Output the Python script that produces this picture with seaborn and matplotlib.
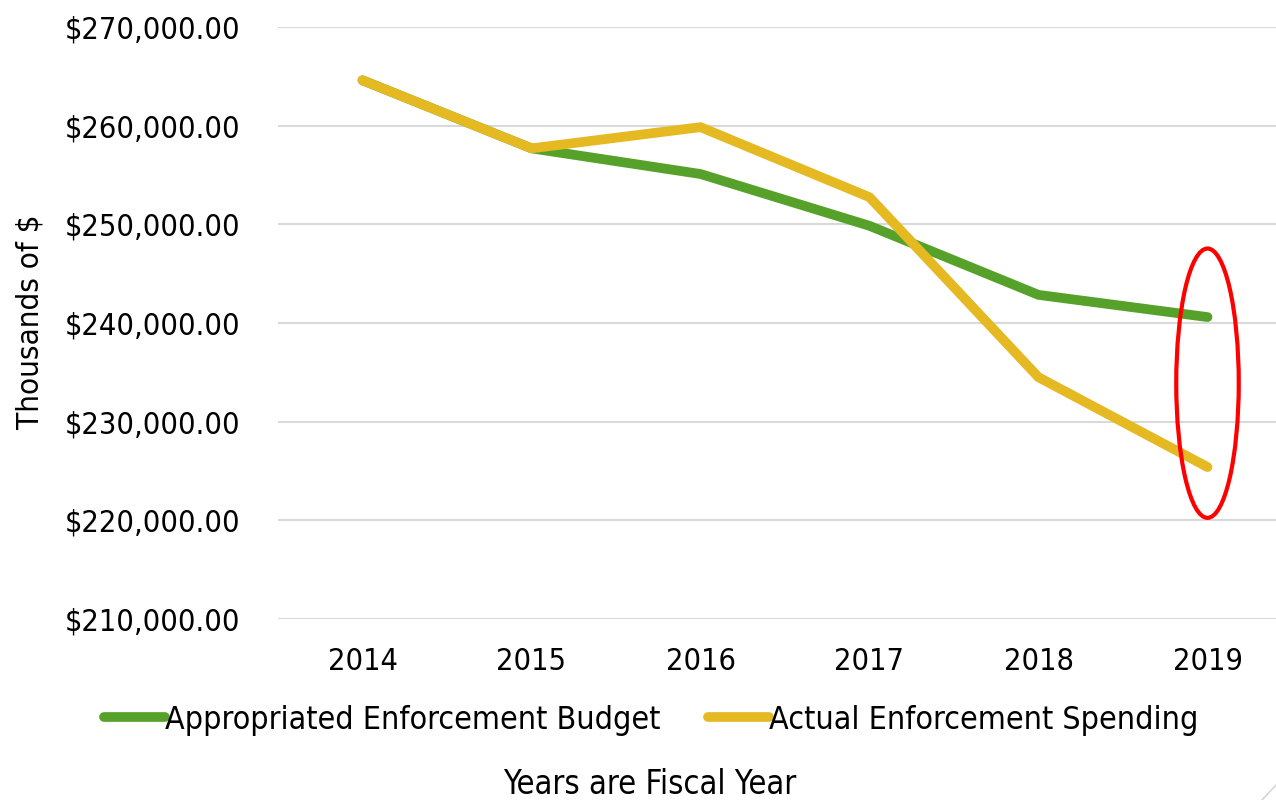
import matplotlib
matplotlib.use("Agg")
import matplotlib.pyplot as plt
import seaborn as sns
import pandas as pd
from matplotlib.patches import Ellipse
from matplotlib.ticker import FuncFormatter
from matplotlib.lines import Line2D

years = ["2014", "2015", "2016", "2017", "2018", "2019"]
budget = [264600, 257700, 255100, 249850, 242850, 240600]
spending = [264600, 257700, 259850, 252750, 234500, 225400]
series_names = ["Appropriated Enforcement Budget", "Actual Enforcement Spending"]
colors = ["#56A12A", "#E5B921"]

df = pd.DataFrame({
    "Year": years * 2,
    "Value": budget + spending,
    "Series": [series_names[0]] * len(years) + [series_names[1]] * len(years),
})

sns.set_theme(style="white")
plt.rcParams['font.family'] = ['DejaVu Sans']
plt.rcParams['font.stretch'] = 'condensed'
plt.rcParams['text.color'] = 'black'
plt.rcParams['axes.labelcolor'] = 'black'

fig = plt.figure(figsize=(12.76, 8.0), dpi=100)
ax = fig.add_axes([278 / 1276, 1 - 619 / 800, (1292 - 278) / 1276, (619 - 27) / 800])

sns.lineplot(data=df, x="Year", y="Value", hue="Series", palette=colors,
             linewidth=7, ax=ax, legend=False, sort=False)
for ln in ax.lines:
    ln.set_solid_capstyle("round")
    ln.set_solid_joinstyle("round")
ax.lines[1].set_zorder(3)

ax.set_xlim(-0.5, 5.5)
ax.set_ylim(210000, 270000)
ax.set_yticks(range(210000, 270001, 10000))
ax.yaxis.set_major_formatter(FuncFormatter(lambda v, p: f"${v:,.2f}"))
ax.grid(axis="y", color="#D9D9D9", linewidth=1.5)
ax.set_axisbelow(True)
for s in ax.spines.values():
    s.set_visible(False)
ax.tick_params(axis="y", labelsize=22, pad=27, length=0, colors="black")
ax.tick_params(axis="x", labelsize=22, pad=20, length=0, colors="black")
ax.set_xlabel("")
ax.set_ylabel("")

fig.text(30 / 1276, 1 - 322 / 800, "Thousands of $", rotation=90, fontsize=22.5,
         ha="center", va="center")
fig.text(650 / 1276, 1 - 784 / 800, "Years are Fiscal Year", fontsize=23.5,
         ha="center", va="center")

ell = Ellipse((5, 233900), width=0.37, height=27300, fill=False,
              edgecolor="#FF0000", linewidth=3, zorder=4)
ax.add_patch(ell)

handles = [Line2D([0], [0], color=c, linewidth=7, solid_capstyle="round") for c in colors]
fig.legend(handles, series_names, loc="center", bbox_to_anchor=(651 / 1276, 1 - 720 / 800),
           ncol=2, frameon=False, fontsize=23, handlelength=1.9, handletextpad=0.0,
           columnspacing=1.5)

# faint corner decoration
fig.add_artist(Line2D([1262 / 1276, 1.0], [0.0, 15 / 800], color="#D0D0D0",
                      linewidth=1, transform=fig.transFigure))

fig.savefig("out.png", dpi=100)
